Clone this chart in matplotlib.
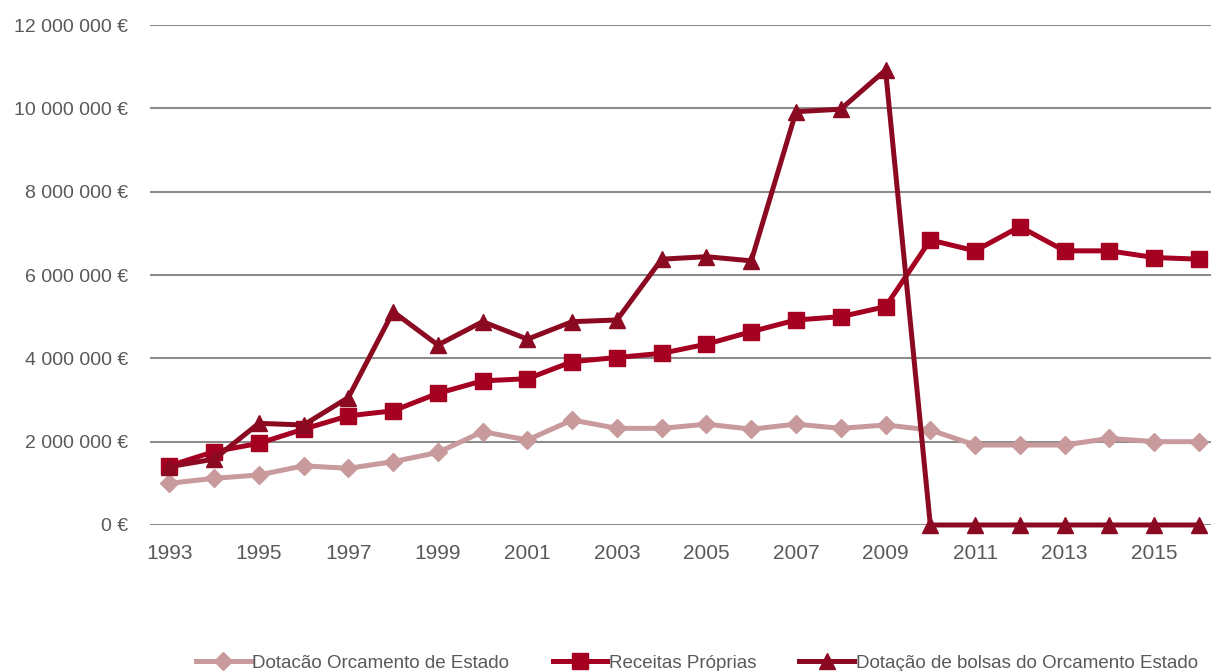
import matplotlib
matplotlib.use('Agg')
import matplotlib.pyplot as plt
from matplotlib.ticker import FuncFormatter

plt.rcParams['font.family'] = ['Liberation Sans', 'DejaVu Sans']

years = list(range(1993, 2017))

# Dotação Orçamento de Estado
orcamento = [1.00, 1.12, 1.20, 1.42, 1.36, 1.52, 1.74, 2.24, 2.04, 2.52, 2.32, 2.32,
             2.42, 2.30, 2.42, 2.32, 2.40, 2.28, 1.92, 1.92, 1.92, 2.08, 2.00, 2.00]
# Receitas Próprias
receitas = [1.42, 1.76, 1.96, 2.30, 2.62, 2.74, 3.16, 3.46, 3.51, 3.92, 4.02, 4.12,
            4.34, 4.64, 4.92, 5.00, 5.24, 6.84, 6.58, 7.16, 6.58, 6.58, 6.42, 6.38]
# Dotação de bolsas do Orçamento Estado
bolsas = [1.40, 1.58, 2.44, 2.40, 3.06, 5.12, 4.32, 4.88, 4.46, 4.88, 4.92, 6.38,
          6.44, 6.34, 9.92, 9.98, 10.92, 0, 0, 0, 0, 0, 0, 0]

orcamento = [v * 1e6 for v in orcamento]
receitas = [v * 1e6 for v in receitas]
bolsas = [v * 1e6 for v in bolsas]

fig = plt.figure(figsize=(12.11, 6.71), dpi=100)
ax = fig.add_axes([0.1239, 0.2176, 0.8761, 0.7451])

ax.plot(years, orcamento, color='#C89A9C', lw=3.6, marker='D', ms=9,
        label='Dotacão Orcamento de Estado', zorder=3, clip_on=False)
ax.plot(years, receitas, color='#A50021', lw=3.6, marker='s', ms=11,
        label='Receitas Próprias', zorder=4, clip_on=False)
ax.plot(years, bolsas, color='#8B0A22', lw=3.6, marker='^', ms=11,
        label='Dotação de bolsas do Orcamento Estado', zorder=5, clip_on=False)

ax.set_ylim(0, 12e6)
ax.set_xlim(1992.57, 2016.27)
ax.set_yticks(range(0, 12000001, 2000000))
ax.set_xticks(years[::2])


def euro(v, pos):
    s = f'{int(v):,}'.replace(',', ' ')
    return f'{s} €'


ax.yaxis.set_major_formatter(FuncFormatter(euro))
ax.grid(axis='y', color='#8C8C8C', lw=1.5)
ax.set_axisbelow(True)
for s in ax.spines.values():
    s.set_visible(False)
ax.tick_params(axis='both', length=0, labelcolor='#595959')
ax.tick_params(axis='y', pad=16, labelsize=14)
ax.tick_params(axis='x', pad=14, labelsize=15)

fig.legend(loc='center', bbox_to_anchor=(0.5756, 0.012), ncol=3, frameon=False,
           fontsize=13.5, handlelength=2.9, handletextpad=0.1, columnspacing=2.3,
           labelcolor='#595959')

fig.savefig('out.png', dpi=100)
